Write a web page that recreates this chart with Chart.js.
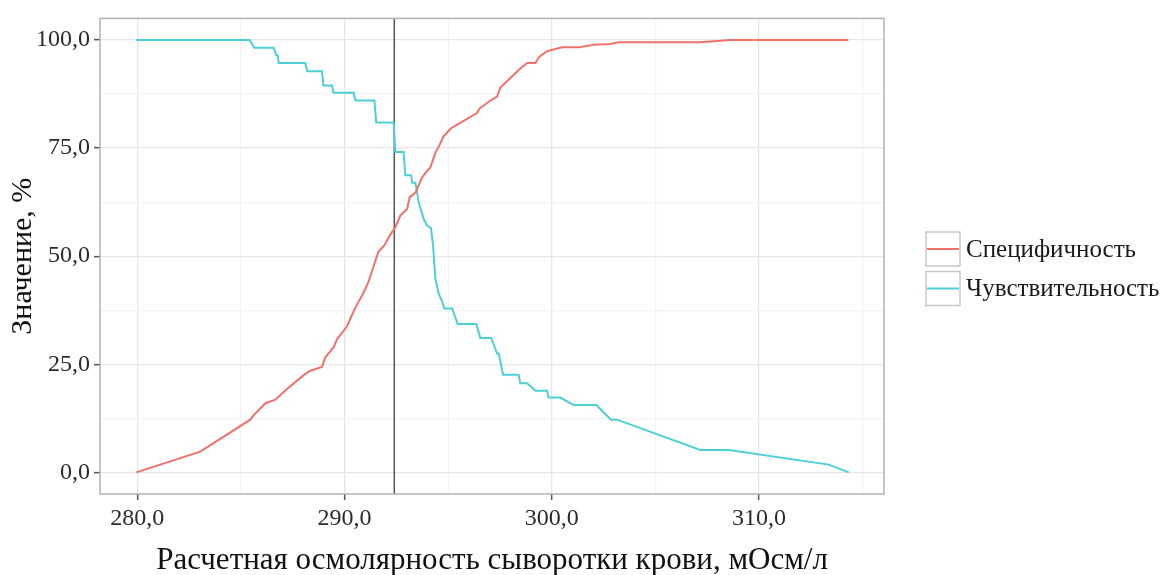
<!DOCTYPE html>
<html>
<head>
<meta charset="utf-8">
<script src="https://cdn.jsdelivr.net/npm/chart.js@4.4.0/dist/chart.umd.min.js"></script>
<style>
html, body { margin: 0; padding: 0; background: #fff; }
</style>
</head>
<body>
<canvas id="osmo" width="1163" height="575"></canvas>
<script>
// specificity / sensitivity vs calculated serum osmolality
var specX = [279.95, 283.04, 285.45, 285.61, 286.18, 286.66, 287.22, 288.06, 288.35, 288.91, 289.07, 289.47, 289.64, 290.12, 290.44, 290.68, 290.91, 291.15, 291.39, 291.63, 291.92, 292.21, 292.45, 292.69, 293.02, 293.14, 293.42, 293.74, 293.98, 294.14, 294.38, 294.59, 294.78, 295.14, 295.35, 296.39, 296.52, 297.04, 297.36, 297.52, 298.48, 298.81, 299.21, 299.37, 299.77, 300.50, 301.30, 302.02, 302.83, 303.23, 307.17, 308.62, 314.31];
var specY = [0, 4.8, 12.2, 13.2, 16.0, 16.8, 19.3, 22.6, 23.5, 24.4, 26.6, 28.9, 30.8, 33.8, 37.3, 39.5, 41.5, 44.0, 47.5, 51.0, 52.5, 55.0, 56.7, 59.4, 60.9, 63.6, 64.7, 68.2, 69.7, 70.5, 73.9, 75.8, 77.7, 79.6, 80.2, 83.1, 84.2, 86.0, 86.9, 89.0, 93.4, 94.7, 94.7, 96.0, 97.4, 98.3, 98.3, 98.9, 99.1, 99.5, 99.5, 100, 100];

var sensX = [279.95, 285.42, 285.65, 286.58, 286.71, 286.78, 286.82, 288.11, 288.20, 288.91, 288.98, 289.40, 289.46, 290.44, 290.52, 291.44, 291.53, 292.37, 292.45, 292.85, 292.93, 293.21, 293.27, 293.42, 293.58, 293.82, 293.98, 294.17, 294.27, 294.38, 294.54, 294.71, 294.82, 295.19, 295.46, 296.36, 296.55, 297.08, 297.36, 297.44, 297.65, 298.40, 298.48, 298.81, 299.21, 299.77, 299.85, 300.41, 301.04, 302.15, 302.86, 303.15, 307.17, 308.54, 313.36, 314.33];
var sensY = [100, 100, 98.2, 98.2, 96.4, 96.4, 94.7, 94.7, 92.8, 92.8, 89.5, 89.5, 87.8, 87.8, 86.0, 86.0, 80.9, 80.9, 74.1, 74.1, 68.7, 68.7, 67.0, 67.0, 62.4, 58.6, 57.1, 56.5, 52.5, 44.9, 41.4, 39.5, 37.9, 37.9, 34.3, 34.3, 31.1, 31.1, 27.5, 27.5, 22.6, 22.6, 20.6, 20.6, 18.9, 18.9, 17.3, 17.3, 15.6, 15.6, 12.2, 12.2, 5.2, 5.2, 1.8, 0];

var cutoff = 292.4;

var xTicks = [280, 285, 290, 295, 300, 305, 310, 315];
var yTicks = [0, 12.5, 25, 37.5, 50, 62.5, 75, 87.5, 100];

var seriesNames = ['Специфичность', 'Чувствительность'];
var xTitle = 'Расчетная осмолярность сыворотки крови, мОсм/л';
var yTitle = 'Значение, %';

var serif = "'Liberation Serif', 'DejaVu Serif', serif";

function pairs(xs, ys) {
    var out = [];
    for (var i = 0; i < xs.length; i++) {
        out.push({ x: xs[i], y: ys[i] });
    }
    return out;
}

function fmt(v) {
    return v.toFixed(1).replace('.', ',');
}

// panel border, drawn over the grid like ggplot's theme_bw
const panelFrame = {
    id: 'panelFrame',
    afterDatasetsDraw(chart) {
        const { ctx, chartArea: a } = chart;
        ctx.save();
        ctx.strokeStyle = '#b3b3b3';
        ctx.lineWidth = 1.5;
        ctx.strokeRect(a.left, a.top, a.right - a.left, a.bottom - a.top);
        ctx.restore();
    }
};

// legend keys: grey box with a coloured stroke through it
const keyLegend = {
    id: 'keyLegend',
    afterDraw(chart) {
        const ctx = chart.ctx;
        const left = 926, top = 232, size = 34, step = 39.5;
        ctx.save();
        chart.data.datasets.forEach(function (ds, i) {
            if (!ds.label) return;
            var y = top + i * step;
            ctx.fillStyle = '#ffffff';
            ctx.fillRect(left, y, size, size);
            ctx.strokeStyle = '#c8c8c8';
            ctx.lineWidth = 1.5;
            ctx.strokeRect(left, y, size, size);
            ctx.strokeStyle = ds.borderColor;
            ctx.lineWidth = 2;
            ctx.beginPath();
            ctx.moveTo(left + 1, y + size / 2);
            ctx.lineTo(left + size - 1, y + size / 2);
            ctx.stroke();
            ctx.fillStyle = '#1a1a1a';
            ctx.font = '25px ' + serif;
            ctx.textBaseline = 'middle';
            ctx.textAlign = 'left';
            ctx.fillText(ds.label, left + 40, y + size / 2 + 1);
        });
        ctx.restore();
    }
};

const data = {
    datasets: [
        {
            label: seriesNames[0],
            data: pairs(specX, specY),
            borderColor: '#F0716B',
            borderWidth: 2,
            pointRadius: 0,
            tension: 0
        },
        {
            label: seriesNames[1],
            data: pairs(sensX, sensY),
            borderColor: '#4DD0D5',
            borderWidth: 2,
            pointRadius: 0,
            tension: 0
        },
        {
            label: '',
            data: [{ x: cutoff, y: -5 }, { x: cutoff, y: 105 }],
            borderColor: '#555555',
            borderWidth: 1.5,
            pointRadius: 0
        }
    ]
};

const config = {
    type: 'line',
    data,
    options: {
        animation: false,
        responsive: false,
        layout: { padding: { top: 14, right: 279, left: 0, bottom: 0 } },
        plugins: {
            legend: { display: false },
            tooltip: { enabled: false }
        },
        scales: {
            x: {
                type: 'linear',
                min: 278.2,
                max: 316.03,
                afterBuildTicks: function (s) { s.ticks = xTicks.map(function (v) { return { value: v }; }); },
                afterFit: function (s) { s.height = 81; },
                border: { display: false },
                grid: {
                    color: function (c) { return c.tick && c.tick.value % 10 === 0 ? '#e6e6e6' : '#f3f3f3'; },
                    lineWidth: 1.3,
                    tickLength: 6,
                    tickWidth: 1.5,
                    tickColor: function (c) { return c.tick && c.tick.value % 10 === 0 ? '#555555' : 'rgba(0,0,0,0)'; }
                },
                ticks: {
                    autoSkip: false,
                    maxRotation: 0,
                    padding: 4,
                    color: '#2b2b2b',
                    font: { family: serif, size: 24 },
                    callback: function (v) { return v % 10 === 0 ? fmt(v) : ''; }
                },
                title: {
                    display: true,
                    text: xTitle,
                    color: '#111111',
                    font: { family: serif, size: 31 },
                    padding: { top: 0, bottom: -4 }
                }
            },
            y: {
                min: -5,
                max: 105,
                afterBuildTicks: function (s) { s.ticks = yTicks.map(function (v) { return { value: v }; }); },
                afterFit: function (s) { s.width = 100; },
                border: { display: false },
                grid: {
                    color: function (c) { return c.tick && c.tick.value % 25 === 0 ? '#e6e6e6' : '#f3f3f3'; },
                    lineWidth: 1.3,
                    tickLength: 6,
                    tickWidth: 1.5,
                    tickColor: function (c) { return c.tick && c.tick.value % 25 === 0 ? '#555555' : 'rgba(0,0,0,0)'; }
                },
                ticks: {
                    autoSkip: false,
                    padding: 4,
                    color: '#2b2b2b',
                    font: { family: serif, size: 24 },
                    callback: function (v) { return v % 25 === 0 ? fmt(v) : ''; }
                },
                title: {
                    display: true,
                    text: yTitle,
                    color: '#111111',
                    font: { family: serif, size: 30 },
                    padding: { top: 5, bottom: 0 }
                }
            }
        }
    },
    plugins: [panelFrame, keyLegend]
};

new Chart(document.getElementById('osmo'), config);
</script>
</body>
</html>
